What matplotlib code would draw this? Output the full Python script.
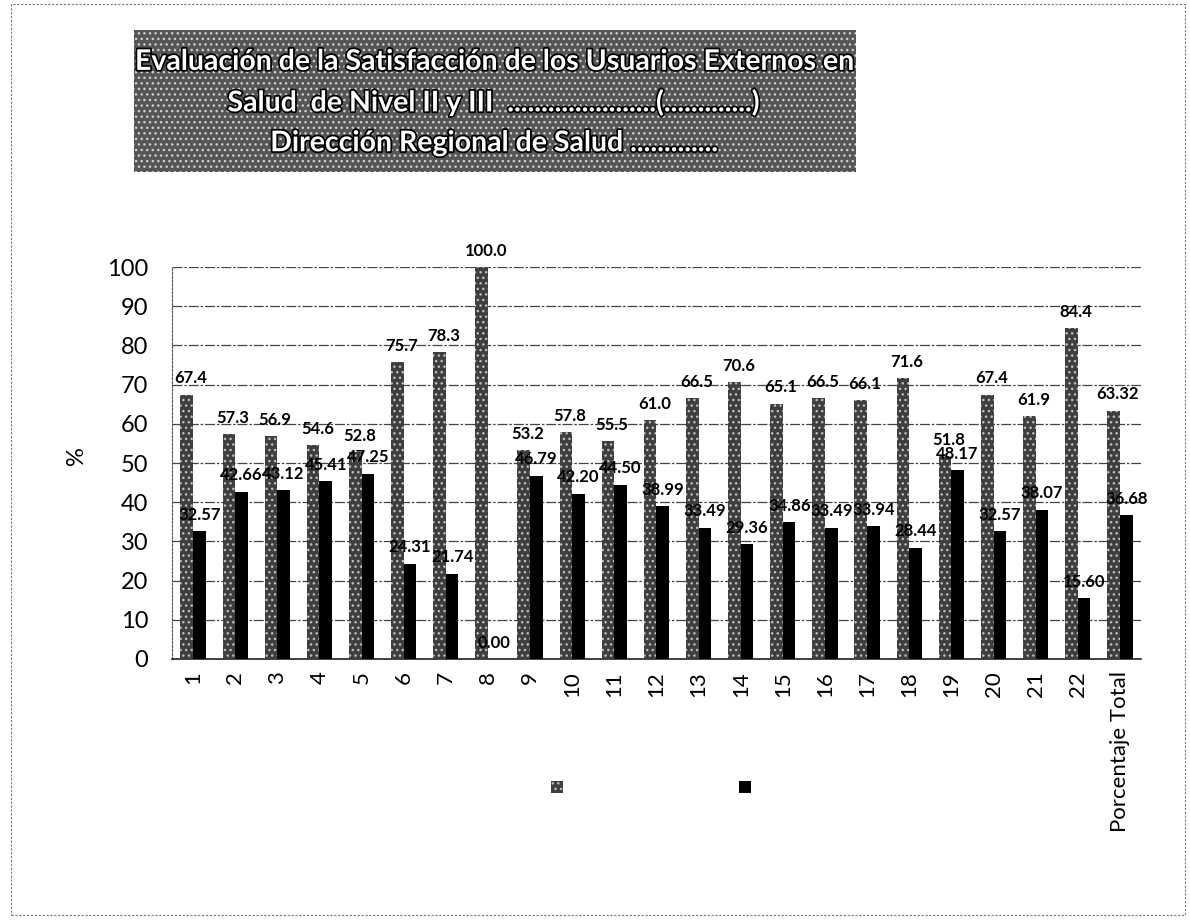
import matplotlib
matplotlib.use("Agg")
import matplotlib.pyplot as plt
import matplotlib.patheffects as pe
from matplotlib.patches import Rectangle
import numpy as np

# Satisfaction vs. dissatisfaction per question (%)
preguntas = [str(i) for i in range(1, 23)] + ["Porcentaje Total"]
satisfechos = [67.4, 57.3, 56.9, 54.6, 52.8, 75.7, 78.3, 100.0, 53.2, 57.8, 55.5,
               61.0, 66.5, 70.6, 65.1, 66.5, 66.1, 71.6, 51.8, 67.4, 61.9, 84.4, 63.32]
insatisfechos = [32.57, 42.66, 43.12, 45.41, 47.25, 24.31, 21.74, 0.00, 46.79, 42.20,
                 44.50, 38.99, 33.49, 29.36, 34.86, 33.49, 33.94, 28.44, 48.17, 32.57,
                 38.07, 15.60, 36.68]
# labels show one decimal, except the total
sat_labels = ["%.1f" % v for v in satisfechos[:-1]] + ["%.2f" % satisfechos[-1]]
ins_labels = ["%.2f" % v for v in insatisfechos]

titulo = ["Evaluación de la Satisfacción de los Usuarios Externos en",
          "Salud  de Nivel II y III  " + "." * 22 + "(" + "." * 13 + ")",
          "Dirección Regional de Salud " + "." * 13]

plt.rcParams["font.family"] = ["Lato", "DejaVu Sans"]
plt.rcParams["hatch.linewidth"] = 1.0

fig = plt.figure(figsize=(11.9, 9.24), dpi=100)
ax = fig.add_axes([0.1445, 0.2868, 0.8143, 0.4242])

x = np.arange(len(preguntas))
w = 0.3
gris = ax.bar(x - w / 2, satisfechos, w, facecolor="#3e3e3e", edgecolor="#bdbdbd",
              hatch="...", linewidth=0, zorder=3)
negro = ax.bar(x + w / 2, insatisfechos, w, color="black", zorder=3)

for xi, v, t in zip(x, satisfechos, sat_labels):
    ax.annotate(t, (xi - w / 2, v), xytext=(3, 6), textcoords="offset points",
                ha="center", va="bottom", fontsize=12, fontweight="bold")
for xi, v, t in zip(x, insatisfechos, ins_labels):
    ax.annotate(t, (xi + w / 2, v), xytext=(0, 6), textcoords="offset points",
                ha="center", va="bottom", fontsize=12, fontweight="bold")

ax.set_xlim(-0.5, len(preguntas) - 0.5)
ax.set_ylim(0, 100)
ax.set_yticks(range(0, 101, 10))
ax.set_xticks(x)
ax.set_xticklabels(preguntas, rotation=90, fontsize=16)
ax.tick_params(axis="y", length=0, pad=17, labelsize=17)
ax.tick_params(axis="x", length=0, pad=9)
ax.yaxis.grid(True, color="#444444", linewidth=0.9, linestyle=(0, (8, 1.5, 2, 1.5)), zorder=0)
ax.set_axisbelow(True)
for s in ["top", "right"]:
    ax.spines[s].set_visible(False)
ax.spines["left"].set_linestyle((0, (2, 1.5)))
ax.spines["left"].set_color("#555555")
ax.spines["bottom"].set_color("#222222")
ax.spines["bottom"].set_linewidth(1.2)

ax.set_ylabel("%", fontsize=17)
ax.yaxis.set_label_coords(-0.088, 0.52)

ax.legend([gris, negro], [" ", " "], ncol=2, loc="center",
          bbox_to_anchor=(0.505, -0.33), frameon=False, handlelength=0.6,
          handleheight=0.6, columnspacing=8.0, fontsize=14)

# title banner
fig.patches.append(Rectangle((0.1126, 0.8139), 0.6067, 0.1537, transform=fig.transFigure,
                             facecolor="#555555", edgecolor="#cfcfcf", hatch="...",
                             linewidth=0, zorder=0))
for yy, line in zip([0.933, 0.889, 0.845], titulo):
    fig.text(0.416, yy, line, ha="center", va="center", fontsize=20.5, fontweight="bold",
             color="white", path_effects=[pe.withStroke(linewidth=2.5, foreground="black")])

# page frame
fig.patches.append(Rectangle((0.009, 0.01), 0.987, 0.986, transform=fig.transFigure,
                             fill=False, edgecolor="#777777", linewidth=0.8,
                             linestyle=(0, (2, 1.5))))

fig.savefig("out.png", dpi=100)
